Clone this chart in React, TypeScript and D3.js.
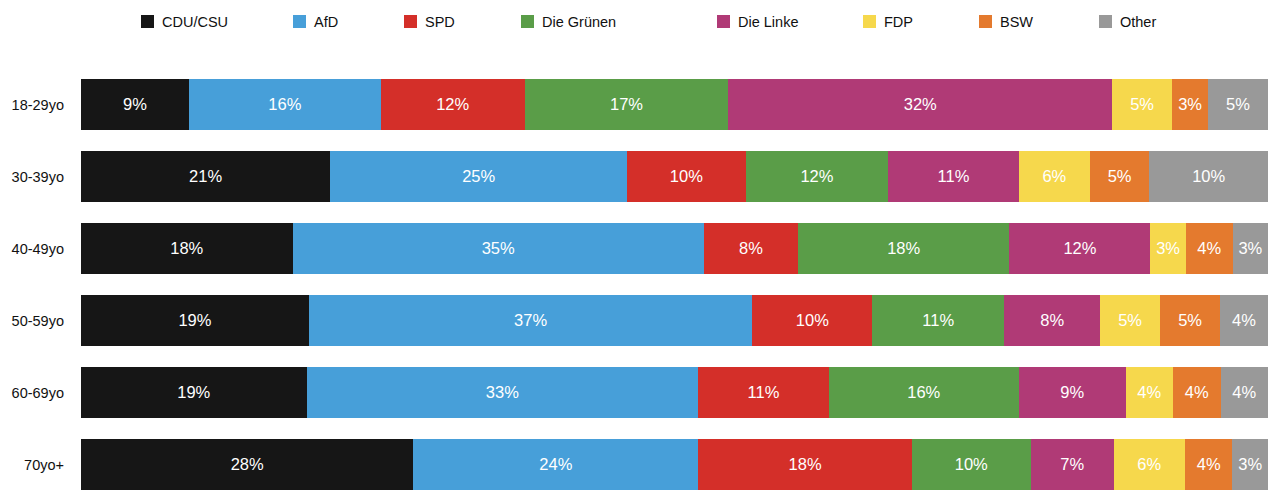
import React, {useEffect, useRef} from "react";
import * as d3 from "d3";

const parties = ["CDU/CSU", "AfD", "SPD", "Die Grünen", "Die Linke", "FDP", "BSW", "Other"];
const colors = ["#161616", "#479fd9", "#d42f29", "#5a9d48", "#b03a76", "#f6d84c", "#e47a2e", "#999999"];
const ageGroups = ["18-29yo", "30-39yo", "40-49yo", "50-59yo", "60-69yo", "70yo+"];

const cduCsu = [9, 21, 18, 19, 19, 28];
const afd = [16, 25, 35, 37, 33, 24];
const spd = [12, 10, 8, 10, 11, 18];
const gruene = [17, 12, 18, 11, 16, 10];
const linke = [32, 11, 12, 8, 9, 7];
const fdp = [5, 6, 3, 5, 4, 6];
const bsw = [3, 5, 4, 5, 4, 4];
const other = [5, 10, 3, 4, 4, 3];

const series = [cduCsu, afd, spd, gruene, linke, fdp, bsw, other];
const legendX = [141, 293, 404, 521, 717, 863, 979, 1099];

type Row = {group: string; [k: string]: number | string};

const App: React.FC = () => {
    const svgRef = useRef<SVGSVGElement>(null);
    const width = 1280;
    const height = 499;

    useEffect(() => {
        const svg = d3.select(svgRef.current);
        svg.selectAll("*").remove();
        const font = "'Liberation Sans', Arial, Helvetica, sans-serif";

        const rows: Row[] = ageGroups.map((g, i) => {
            const r: Row = {group: g};
            parties.forEach((p, j) => { r[p] = series[j][i]; });
            return r;
        });

        const stack = d3.stack<Row>()
            .keys(parties)
            .value((d, k) => d[k] as number)
            .offset(d3.stackOffsetExpand);
        const layers = stack(rows);

        const x = d3.scaleLinear().domain([0, 1]).range([81, 1268]);
        const y = d3.scaleBand<string>()
            .domain(ageGroups)
            .range([79, 490])
            .paddingInner(21 / 72)
            .paddingOuter(0);
        const color = d3.scaleOrdinal<string, string>().domain(parties).range(colors);

        // legend
        const legend = svg.append("g");
        parties.forEach((p, i) => {
            legend.append("rect")
                .attr("x", legendX[i]).attr("y", 15)
                .attr("width", 13).attr("height", 13)
                .attr("fill", color(p));
            legend.append("text")
                .attr("x", legendX[i] + 21).attr("y", 27)
                .attr("font-family", font).attr("font-size", 14.5)
                .attr("fill", "#111")
                .text(p);
        });

        // bars
        const g = svg.append("g").attr("shape-rendering", "crispEdges");
        const labels = svg.append("g");
        layers.forEach(layer => {
            g.append("g").attr("fill", color(layer.key))
                .selectAll("rect")
                .data(layer)
                .join("rect")
                .attr("x", d => Math.round(x(d[0])))
                .attr("y", d => y(d.data.group)!)
                .attr("width", d => Math.round(x(d[1])) - Math.round(x(d[0])))
                .attr("height", y.bandwidth());
            labels.append("g").selectAll("text")
                .data(layer)
                .join("text")
                .attr("x", d => (x(d[0]) + x(d[1])) / 2)
                .attr("y", d => y(d.data.group)! + y.bandwidth() / 2)
                .attr("dy", "0.36em")
                .attr("text-anchor", "middle")
                .attr("font-family", font)
                .attr("font-size", 16.5)
                .attr("fill", "#fff")
                .text(d => `${d.data[layer.key]}%`);
        });

        // row labels
        svg.append("g").selectAll("text")
            .data(ageGroups)
            .join("text")
            .attr("x", 64)
            .attr("y", d => y(d)! + y.bandwidth() / 2)
            .attr("dy", "0.36em")
            .attr("text-anchor", "end")
            .attr("font-family", font)
            .attr("font-size", 14.5)
            .attr("fill", "#111")
            .text(d => d);
    }, []);

    return <svg ref={svgRef} width={width} height={height}
                style={{position: "absolute", left: 0, top: 0, background: "#fff"}}></svg>;
};

export default App;
